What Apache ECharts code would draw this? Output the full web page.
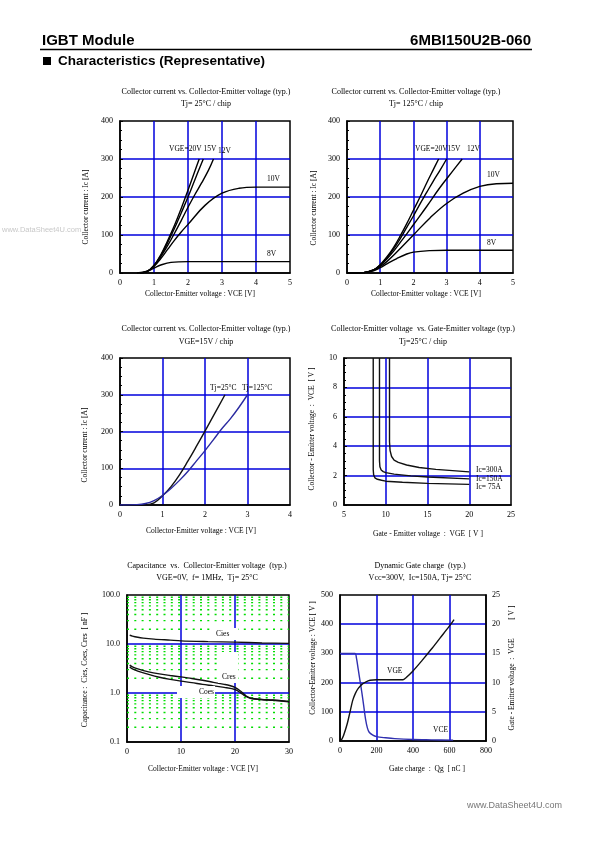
<!DOCTYPE html>
<html><head><meta charset="utf-8">
<script src="https://cdn.jsdelivr.net/npm/echarts@6/dist/echarts.min.js"></script>
<style>html,body{margin:0;padding:0;background:#fff}#c{width:595px;height:842px}</style>
</head><body><div id="c"></div>
<script>
// ===== tick values =====
const c1XTicks = [0,1,2,3,4,5];
const c1YTicks = [0,100,200,300,400];
const c2XTicks = [0,1,2,3,4,5];
const c2YTicks = [0,100,200,300,400];
const c3XTicks = [0,1,2,3,4];
const c3YTicks = [0,100,200,300,400];
const c4XTicks = [5,10,15,20,25];
const c4YTicks = [0,2,4,6,8,10];
const c5XTicks = [0,10,20,30];
const c5YTicks = [0.1,1,10,100];
const c6XTicks = [0,200,400,600,800];
const c6YTicks = [0,100,200,300,400,500];
const c6Y2Ticks = [0,5,10,15,20,25];
const c5MinorGrid = [0.2,0.3,0.4,0.5,0.6,0.7,0.8,0.9,2,3,4,5,6,7,8,9,20,30,40,50,60,70,80,90];

// ===== chart 1 : Ic vs VCE, Tj=25C =====
const c1Vge20 = [[0.6,0],[0.8,4],[1.0,20],[1.2,48],[1.4,85],[1.6,125],[1.8,170],[2.0,218],[2.2,268],[2.33,300]];
const c1Vge15 = [[0.6,0],[0.8,4],[1.0,20],[1.2,46],[1.4,80],[1.6,117],[1.8,158],[2.0,200],[2.2,245],[2.45,300]];
const c1Vge12 = [[0.6,0],[0.8,4],[1.0,19],[1.2,43],[1.4,72],[1.6,104],[1.8,138],[2.0,173],[2.2,206],[2.4,237],[2.6,270],[2.75,300]];
const c1Vge10 = [[0.6,0],[0.8,4],[1.0,17],[1.2,38],[1.4,62],[1.6,86],[1.8,108],[2.0,128],[2.5,178],[3.0,210],[3.5,223],[4.0,226],[5.0,226]];
const c1Vge8  = [[0.5,0],[0.8,5],[1.0,13],[1.2,21],[1.5,28],[2.0,30],[3.0,30],[5.0,30]];

// ===== chart 2 : Ic vs VCE, Tj=125C =====
const c2Vge20 = [[0,0],[0.5,1],[0.8,8],[1.0,22],[1.2,42],[1.4,67],[1.6,97],[1.8,130],[2.0,165],[2.2,200],[2.4,237],[2.6,272],[2.76,300]];
const c2Vge15 = [[0,0],[0.5,1],[0.8,8],[1.0,21],[1.2,40],[1.4,63],[1.6,90],[1.8,120],[2.0,150],[2.2,182],[2.4,212],[2.6,242],[2.8,270],[3.0,300]];
const c2Vge12 = [[0,0],[0.5,1],[0.8,8],[1.0,20],[1.2,37],[1.4,57],[1.6,80],[1.8,103],[2.0,127],[2.4,175],[2.8,225],[3.2,270],[3.47,300]];
const c2Vge10 = [[0,0],[0.5,1],[0.8,7],[1.0,17],[1.2,30],[1.5,55],[2.0,100],[2.5,145],[3.0,183],[3.5,210],[4.0,228],[4.5,235],[5.0,236]];
const c2Vge8  = [[0,0],[0.5,1],[0.8,6],[1.0,14],[1.2,24],[1.5,38],[1.8,50],[2.0,55],[2.5,59],[3.0,60],[5.0,60]];

// ===== chart 3 : Ic vs VCE, VGE=15V =====
const c3Tj25  = [[0.6,0],[0.8,6],[1.0,25],[1.2,50],[1.4,82],[1.6,120],[1.8,160],[2.0,201],[2.2,243],[2.47,300]];
const c3Tj125 = [[0,0],[0.4,1],[0.6,4],[0.8,12],[1.0,26],[1.2,45],[1.4,67],[1.6,92],[1.8,120],[2.0,148],[2.2,178],[2.4,208],[2.6,235],[2.8,266],[3.0,300]];

// ===== chart 4 : VCE vs VGE =====
const c4Ic75  = [[8.5,10],[8.5,2.4],[8.55,2.05],[8.7,1.85],[9.0,1.75],[9.5,1.68],[10,1.62],[12,1.55],[15,1.47],[20,1.4]];
const c4Ic150 = [[9.25,10],[9.25,3.0],[9.3,2.6],[9.45,2.38],[9.7,2.27],[10,2.2],[11,2.1],[13,1.98],[15,1.9],[20,1.78]];
const c4Ic300 = [[10.45,10],[10.45,4.3],[10.52,3.7],[10.7,3.3],[11,3.05],[11.5,2.9],[12.5,2.72],[14,2.55],[16,2.42],[20,2.25]];

// ===== chart 5 : capacitance =====
const c5Cies = [[0.5,15.2],[1,14.5],[2,13.7],[3,13.2],[5,12.6],[8,12.0],[10,11.6],[15,11.2],[20,10.9],[25,10.5],[30,10.3]];
const c5Cres = [[0.5,3.7],[1,3.4],[2,3.1],[4,2.7],[6,2.45],[8,2.28],[10,2.13],[12,1.98],[14,1.82],[16,1.65],[18,1.5],[19,1.42],[20,1.3],[21,1.1],[22,0.88],[23,0.78],[25,0.74],[27,0.72],[30,0.67]];
const c5Coes = [[0.5,3.4],[1,3.1],[2,2.8],[4,2.4],[6,2.1],[8,1.9],[10,1.75],[12,1.63],[14,1.5],[16,1.4],[18,1.3],[20,1.18],[21,1.02],[22,0.85],[23,0.77],[25,0.73],[27,0.71],[30,0.66]];

// ===== chart 6 : gate charge =====
const c6Vce = [[0,300],[82,300],[90,285],[100,245],[110,205],[120,165],[130,120],[140,75],[150,45],[160,30],[180,20],[200,15],[250,11],[300,8],[400,5],[500,4],[620,3]];
const c6Vge = [[5,0],[20,1],[40,3],[55,5],[70,7],[85,8.2],[100,9],[120,9.7],[140,10.1],[165,10.4],[200,10.5],[300,10.5],[345,10.5],[360,10.8],[400,12],[450,13.8],[500,15.7],[550,17.7],[600,19.7],[625,20.8]];

// ===== rendering =====
const SERIF = '"Liberation Serif","Times New Roman",serif';
const SANS = '"Liberation Sans",Arial,Helvetica,sans-serif';
const BLUE = '#0000dd';
const grids = [
  {left:120, top:121, width:170, height:152},
  {left:347, top:121, width:166, height:152},
  {left:120, top:358, width:170, height:147},
  {left:344, top:358, width:167, height:147},
  {left:127, top:595, width:162, height:147},
  {left:340, top:595, width:146, height:146}
].map(g => Object.assign({show:true, borderColor:'#000', borderWidth:1.5, containLabel:false}, g));

const lab = {fontFamily:SERIF, fontSize:8, color:'#000'};
function mkX(gi, t){
  return {type:'value', gridIndex:gi, min:t[0], max:t[t.length-1], interval:t[1]-t[0],
    axisLine:{show:true, onZero:false, lineStyle:{color:'#000', width:1.5}},
    axisTick:{show:false}, axisLabel:Object.assign({margin:6}, lab),
    splitLine:{show:true, showMinLine:false, showMaxLine:false, lineStyle:{color:BLUE, width:1.5}}};
}
function mkY(gi, t, minor, extra){
  return Object.assign({type:'value', gridIndex:gi, min:t[0], max:t[t.length-1], interval:t[1]-t[0],
    axisLine:{show:true, onZero:false, lineStyle:{color:'#000', width:1.5}},
    axisTick:{show:minor, inside:true, length:3, lineStyle:{color:'#000'}},
    minorTick:{show:minor, splitNumber:4, length:2, lineStyle:{color:'#000'}},
    axisLabel:Object.assign({margin:7}, lab),
    splitLine:{show:true, showMinLine:false, showMaxLine:false, lineStyle:{color:BLUE, width:1.5}}}, extra||{});
}
const xAxes = [mkX(0,c1XTicks), mkX(1,c2XTicks), mkX(2,c3XTicks), mkX(3,c4XTicks), mkX(4,c5XTicks), mkX(5,c6XTicks)];
const yAxes = [mkY(0,c1YTicks,true), mkY(1,c2YTicks,true), mkY(2,c3YTicks,true), mkY(3,c4YTicks,true),
  {type:'log', logBase:10, gridIndex:4, min:c5YTicks[0], max:c5YTicks[c5YTicks.length-1],
    axisLine:{show:true, onZero:false, lineStyle:{color:'#000', width:1.5}}, axisTick:{show:false},
    axisLabel:Object.assign({margin:7, formatter:v=>Number(v).toFixed(1)}, lab),
    splitLine:{show:true, showMinLine:false, showMaxLine:false, lineStyle:{color:BLUE, width:1.5}}},
  mkY(5,c6YTicks,false),
  mkY(5,c6Y2Ticks,false,{position:'right', splitLine:{show:false}, axisLabel:Object.assign({margin:6}, lab)})
];

const series = [];
function line(data, xi, yi, color, smooth){
  series.push({type:'line', xAxisIndex:xi, yAxisIndex:yi, data:data, symbol:'none', smooth:smooth===undefined?0.4:smooth,
    silent:true, lineStyle:{color:color||'#000', width:1.4}, z:5});
}
// green minor grid lines (chart 5)
c5MinorGrid.forEach(v => {
  series.push({type:'line', xAxisIndex:4, yAxisIndex:4, data:[[c5XTicks[0],v],[c5XTicks[c5XTicks.length-1],v]], symbol:'none', silent:true,
    lineStyle:{color:'#00dd00', width:1.4, type:[2,5.3]}, z:1});
});
[c1Vge20,c1Vge15,c1Vge12,c1Vge10,c1Vge8].forEach(d=>line(d,0,0));
[c2Vge20,c2Vge15,c2Vge12,c2Vge10,c2Vge8].forEach(d=>line(d,1,1));
line(c3Tj25,2,2,'#111');
line(c3Tj125,2,2,'#2a2aa0');
[c4Ic75,c4Ic150,c4Ic300].forEach(d=>line(d,3,3,'#111',false));
line(c5Cies,4,4,'#111',0.3);
line(c5Cres,4,4,'#111',0.3);
line(c5Coes,4,4,'#111',0.3);
line(c6Vce,5,5,'#3030b0',0.3);
line(c6Vge,5,6,'#111',0.3);

function T(x,y,text,o){
  o = o||{};
  return {type:'text', x:x, y:y, rotation:o.rot||0, z:100,
    style:{text:text, fontSize:o.fs||8, fontFamily:o.ff||SERIF, fontWeight:o.fw||'normal', fill:o.c||'#000',
      align:o.al||'center', verticalAlign:'middle'}};
}
function R(x,y,w,h,fill){ return {type:'rect', z:90, shape:{x:x,y:y,width:w,height:h}, style:{fill:fill||'#fff'}}; }
const ROT = Math.PI/2;
const graphics = [
  T(42,41,'IGBT Module',{ff:SANS,fw:'bold',fs:15,al:'left'}),
  T(531,41,'6MBI150U2B-060',{ff:SANS,fw:'bold',fs:15,al:'right'}),
  {type:'line', z:100, shape:{x1:40,y1:49.5,x2:532,y2:49.5}, style:{stroke:'#000', lineWidth:1.5}},
  {type:'rect', z:100, shape:{x:43,y:57,width:8,height:8}, style:{fill:'#000'}},
  T(58,61,'Characteristics (Representative)',{ff:SANS,fw:'bold',fs:13.5,al:'left'}),
  T(2,230,'www.DataSheet4U.com',{ff:SANS,fs:7.5,al:'left',c:'#c8c8c8'}),
  T(562,806,'www.DataSheet4U.com',{ff:SANS,fs:9,al:'right',c:'#777'}),
  // chart 1
  T(206,92,'Collector current vs. Collector-Emitter voltage (typ.)'),
  T(206,104,'Tj= 25°C / chip'),
  T(86,207,'Collector current : Ic [A]',{rot:ROT,fs:7.5}),
  T(200,294,'Collector-Emitter voltage : VCE [V]',{fs:7.5}),
  T(169,149,'VGE=20V 15V',{al:'left',fs:7.5}),
  T(218,151,'12V',{al:'left',fs:7.5}),
  T(267,179,'10V',{al:'left',fs:7.5}),
  T(267,254,'8V',{al:'left',fs:7.5}),
  // chart 2
  T(416,92,'Collector current vs. Collector-Emitter voltage (typ.)'),
  T(416,104,'Tj= 125°C / chip'),
  T(314,208,'Collector current : Ic [A]',{rot:ROT,fs:7.5}),
  T(426,294,'Collector-Emitter voltage : VCE [V]',{fs:7.5}),
  T(415,149,'VGE=20V15V',{al:'left',fs:7.5}),
  T(467,149,'12V',{al:'left',fs:7.5}),
  T(487,175,'10V',{al:'left',fs:7.5}),
  T(487,243,'8V',{al:'left',fs:7.5}),
  // chart 3
  T(206,329,'Collector current vs. Collector-Emitter voltage (typ.)'),
  T(206,342,'VGE=15V / chip'),
  T(85,445,'Collector current : Ic [A]',{rot:ROT,fs:7.5}),
  T(201,531,'Collector-Emitter voltage : VCE [V]',{fs:7.5}),
  T(210,388,'Tj=25°C',{al:'left',fs:7.5}),
  T(242,388,'Tj=125°C',{al:'left',fs:7.5}),
  // chart 4
  T(423,329,'Collector-Emitter voltage  vs. Gate-Emitter voltage (typ.)'),
  T(423,342,'Tj=25°C / chip'),
  T(312,429,'Collector - Emitter voltage  :  VCE  [ V ]',{rot:ROT,fs:7.5}),
  T(428,534,'Gate - Emitter voltage  :  VGE  [ V ]',{fs:7.5}),
  T(476,470,'Ic=300A',{al:'left',fs:7.5}),
  T(476,479,'Ic=150A',{al:'left',fs:7.5}),
  T(476,487,'Ic= 75A',{al:'left',fs:7.5}),
  // chart 5
  T(207,566,'Capacitance  vs.  Collector-Emitter voltage  (typ.)'),
  T(207,578,'VGE=0V,  f= 1MHz,  Tj= 25°C'),
  T(85,670,'Capacitance :  Cies, Coes, Cres  [ nF ]',{rot:ROT,fs:7.5}),
  T(203,769,'Collector-Emitter voltage : VCE [V]',{fs:7.5}),
  R(177,686,38,12), R(213,628,25,12), R(218,652,20,31),
  T(216,634,'Cies',{al:'left',fs:7.5}),
  T(222,677,'Cres',{al:'left',fs:7.5}),
  T(199,692,'Coes',{al:'left',fs:7.5}),
  // chart 6
  T(420,566,'Dynamic Gate charge  (typ.)'),
  T(420,578,'Vcc=300V,  Ic=150A, Tj= 25°C'),
  T(313,658,'Collector-Emitter voltage : VCE [ V ]',{rot:ROT,fs:7.5}),
  T(512,668,'Gate - Emitter voltage  :  VGE          [ V ]',{rot:ROT,fs:7.5}),
  T(427,769,'Gate charge  :  Qg  [ nC ]',{fs:7.5}),
  T(387,671,'VGE',{al:'left',fs:7.5}),
  T(433,730,'VCE',{al:'left',fs:7.5})
];

const chart = echarts.init(document.getElementById('c'), null, {renderer:'canvas'});
chart.setOption({animation:false, backgroundColor:'#fff', grid:grids, xAxis:xAxes, yAxis:yAxes, series:series, graphic:graphics});
</script></body></html>
